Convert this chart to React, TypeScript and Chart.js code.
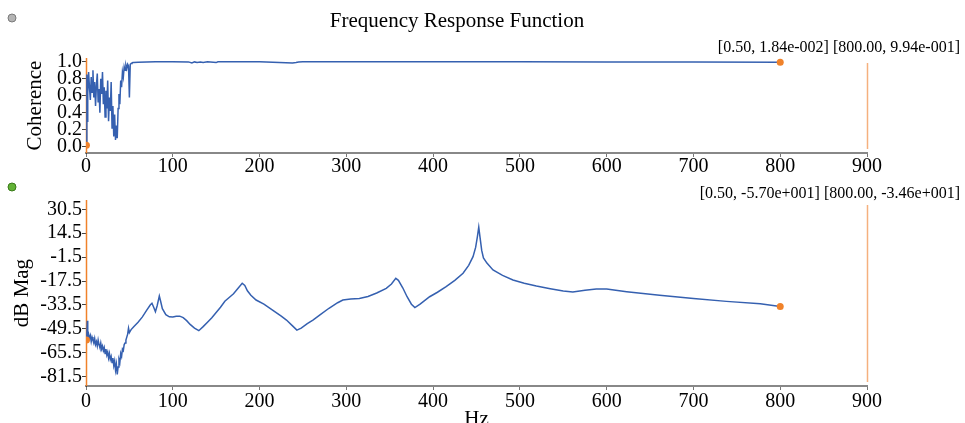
import React, { useEffect, useRef } from "react";
import { Chart, registerables } from "chart.js";

Chart.register(...registerables);

// ---------- data ----------
const cohFreq = [
  0.5, 1, 1.5, 2, 3, 4, 5, 6, 7, 8, 9, 10,
  11, 12, 13, 14, 15, 16, 17, 18, 19, 20,
  21, 22, 23, 24, 25, 26, 27, 28, 29, 30,
  31, 32, 33, 34, 35, 36, 37, 38, 39, 40,
  41, 42, 43, 44, 45, 46, 47, 48, 49, 50,
  51, 52, 53, 54, 55,
  60, 70, 80, 100, 118, 122, 125, 128, 132, 135, 140, 150,
  152, 200, 238, 242, 245, 250, 300, 400, 500, 600, 700, 800,
];
const cohValues = [
  0.0184, 0.85, 0.3, 0.62, 0.88, 0.7, 0.55, 0.82, 0.64, 0.9, 0.58, 0.76,
  0.48, 0.72, 0.86, 0.52, 0.68, 0.4, 0.8, 0.62, 0.88, 0.5,
  0.7, 0.35, 0.66, 0.45, 0.78, 0.3, 0.58, 0.42, 0.76, 0.22,
  0.48, 0.12, 0.38, 0.08, 0.25, 0.1, 0.45, 0.62, 0.5, 0.78,
  0.7, 0.88, 0.82, 0.94, 0.9, 0.96, 0.92, 0.97, 0.95, 0.58,
  0.97, 0.98, 0.985, 0.99, 0.99,
  0.995, 0.998, 0.999, 0.999, 0.998, 0.985, 0.998, 0.99, 0.997, 0.992, 0.999, 0.99,
  0.999, 0.999, 0.985, 0.99, 0.996, 0.999, 0.999, 0.999, 0.999, 0.998, 0.997, 0.994,
];

const magFreq = [
  0.5, 1, 1.5, 2, 3, 4, 5, 6, 7, 8, 9, 10, 11, 12, 13, 14, 15, 16, 17, 18, 19, 20,
  21, 22, 23, 24, 25, 26, 27, 28, 29, 30, 31, 32, 33, 34, 35, 36, 37, 38, 39, 40,
  41, 42, 43, 44, 45, 46, 47, 48, 49, 50, 52, 55, 60, 65, 70, 74, 76, 78, 80, 82,
  84.5, 86, 88, 92, 96, 100, 104, 108, 112, 116, 120, 125, 130, 135, 140, 145, 150,
  155, 160, 165, 170, 175, 180, 183, 186, 190, 196, 205, 215, 225, 231, 238, 243,
  248, 255, 261.5, 270, 280, 290, 296, 305, 315, 325, 335, 346, 352, 357, 360, 365,
  370, 375, 379, 385, 396, 405, 415, 425, 434.5, 441, 446, 449, 451, 452.6, 454, 456,
  458, 462, 469, 480, 492, 505, 519, 535, 550, 561, 575, 588, 600, 623, 661, 700, 738,
  777, 800,
];
const magValues = [
  -57, -52, -44, -55, -53, -56, -54, -58, -55, -57, -59, -56, -60, -58, -61, -57,
  -60, -62, -59, -63, -61, -64, -62, -66, -63, -67, -65, -69, -66, -70, -68, -72,
  -69, -74, -71, -77, -73, -80, -75, -70, -72, -66, -68, -63, -64, -60, -59, -57,
  -55, -53, -49, -52, -50, -48, -45, -41.5, -37, -33.5, -32.4, -35, -38, -34, -27.5,
  -31, -36, -40, -41.4, -41.5, -41, -41, -42, -44, -46.5, -49, -50.7, -48, -45, -42,
  -38.5, -35, -31, -28.5, -26, -22.5, -19, -20.5, -24, -27, -30.2, -33, -36.9, -41,
  -43.6, -47.5, -50.3, -49, -46, -43.6, -40, -35.7, -32, -30.2, -29.5, -29.1, -27.8,
  -25.5, -22.4, -19.5, -15.7, -17, -22, -28, -33, -35.3, -33, -28, -25, -21.3, -17,
  -12.3, -7, -1.2, 5, 12, 18.5, 12, 3, -2, -5.5, -10.1, -13.7, -16.8, -19, -20.8,
  -22.6, -24.2, -24.8, -23.6, -22.8, -22.9, -24.6, -27.0, -29.1, -31.1, -32.7, -34.6,
];

const xTicks = [0, 100, 200, 300, 400, 500, 600, 700, 800, 900];
const cohTicks = [0.0, 0.2, 0.4, 0.6, 0.8, 1.0];
const magTicks = [-81.5, -65.5, -49.5, -33.5, -17.5, -1.5, 14.5, 30.5];

const cursorFreq = [0.5, 800];
const cohCursor = [0.0184, 0.994];
const magCursor = [-57.0, -34.6];
const cursorLines = [0.5, 900];

// ---------- helpers ----------
const SERIF = "'Liberation Serif', 'Times New Roman', serif";
const LINE_COLOR = "#3560b0";
const CURSOR_COLOR = "#f0822a";
const CURSOR2_COLOR = "#f5b07e";

function sci(v: number): string {
  const [m, e] = v.toExponential(2).split("e");
  const n = parseInt(e, 10);
  return m + "e" + (n < 0 ? "-" : "+") + String(Math.abs(n)).padStart(3, "0");
}

function cursorText(vals: number[]): string {
  return cursorFreq
    .map((f, i) => `[${f.toFixed(2)}, ${sci(vals[i])}]`)
    .join(" ");
}

function overlayPlugin(opts: {
  text: string;
  textY: number;
  title?: string;
  dotY: number;
  dotFill: string;
  dotStroke: string;
}) {
  return {
    id: "overlay",
    beforeDatasetsDraw(chart: any) {
      const { ctx, chartArea, scales } = chart;
      ctx.save();
      cursorLines.forEach((f, i) => {
        const x = Math.round(scales.x.getPixelForValue(f)) + 0.5;
        ctx.strokeStyle = i === 0 ? CURSOR_COLOR : CURSOR2_COLOR;
        ctx.lineWidth = 1.5;
        ctx.beginPath();
        if (i === 0) {
          ctx.moveTo(x, chartArea.top);
          ctx.lineTo(x, chartArea.bottom);
        } else {
          ctx.moveTo(x, chartArea.top + 5);
          ctx.lineTo(x, chartArea.bottom - 4);
        }
        ctx.stroke();
      });
      ctx.restore();
    },
    afterDraw(chart: any) {
      const { ctx } = chart;
      ctx.save();
      ctx.fillStyle = "#000";
      ctx.textBaseline = "middle";
      if (opts.title) {
        ctx.font = `21px ${SERIF}`;
        ctx.textAlign = "center";
        ctx.fillText(opts.title, 457, 21);
      }
      ctx.font = `16px ${SERIF}`;
      ctx.textAlign = "right";
      ctx.fillText(opts.text, 960, opts.textY);
      ctx.beginPath();
      ctx.arc(12, opts.dotY, 4, 0, Math.PI * 2);
      ctx.fillStyle = opts.dotFill;
      ctx.fill();
      ctx.lineWidth = 1;
      ctx.strokeStyle = opts.dotStroke;
      ctx.stroke();
      ctx.restore();
    },
  };
}

function buildConfig(p: {
  freq: number[];
  values: number[];
  cursorVals: number[];
  yTicks: number[];
  yMin: number;
  yMax: number;
  yTitle: string;
  yTitlePad: number;
  padTop: number;
  xAxisHeight: number;
  xTickPad: number;
  xTitle?: string;
  plugin: any;
}): any {
  const lineData = p.freq.map((f, i) => ({ x: f, y: p.values[i] }));
  const markData = cursorFreq.map((f, i) => ({ x: f, y: p.cursorVals[i] }));
  return {
    type: "line",
    data: {
      datasets: [
        {
          data: markData,
          showLine: false,
          pointRadius: 3.5,
          pointBackgroundColor: CURSOR_COLOR,
          pointBorderColor: CURSOR_COLOR,
          pointBorderWidth: 0,
        },
        {
          data: lineData,
          borderColor: LINE_COLOR,
          borderWidth: 1.5,
          pointRadius: 0,
          tension: 0,
          fill: false,
        },
      ],
    },
    options: {
      responsive: false,
      animation: false,
      devicePixelRatio: 1,
      layout: { padding: { top: p.padTop, right: 98, left: 0, bottom: 0 } },
      plugins: { legend: { display: false }, tooltip: { enabled: false } },
      scales: {
        x: {
          type: "linear",
          min: 0,
          max: 900,
          afterBuildTicks: (s: any) => {
            s.ticks = xTicks.map((v) => ({ value: v }));
          },
          afterFit: (s: any) => {
            s.height = p.xAxisHeight;
          },
          grid: {
            drawOnChartArea: false,
            drawTicks: true,
            tickLength: 4,
            color: "#777",
          },
          border: { color: "#888", width: 2 },
          ticks: {
            padding: p.xTickPad,
            color: "#000",
            font: { family: SERIF, size: 20 },
            maxRotation: 0,
            autoSkip: false,
            callback: (v: any) => String(v),
          },
          title: p.xTitle
            ? {
                display: true,
                text: p.xTitle,
                color: "#000",
                font: { family: SERIF, size: 21 },
                padding: { top: 0, bottom: -9 },
              }
            : { display: false },
        },
        y: {
          type: "linear",
          min: p.yMin,
          max: p.yMax,
          afterBuildTicks: (s: any) => {
            s.ticks = p.yTicks.map((v) => ({ value: v }));
          },
          afterFit: (s: any) => {
            s.width = 86;
          },
          grid: {
            drawOnChartArea: false,
            drawTicks: true,
            tickLength: 4,
            color: "#444",
          },
          border: { color: "#444", width: 1 },
          ticks: {
            padding: 0,
            color: "#000",
            font: { family: SERIF, size: 20 },
            autoSkip: false,
            callback: (v: any) => Number(v).toFixed(1),
          },
          title: {
            display: true,
            text: p.yTitle,
            color: "#000",
            font: { family: SERIF, size: 21 },
            padding: { top: p.yTitlePad, bottom: 0 },
          },
        },
      },
    },
    plugins: [p.plugin],
  };
}

export default function App() {
  const topRef = useRef<HTMLCanvasElement | null>(null);
  const botRef = useRef<HTMLCanvasElement | null>(null);

  useEffect(() => {
    const top = new Chart(
      topRef.current as HTMLCanvasElement,
      buildConfig({
        freq: cohFreq,
        values: cohValues,
        cursorVals: cohCursor,
        yTicks: cohTicks,
        yMin: -0.074,
        yMax: 1.044,
        yTitle: "Coherence",
        yTitlePad: 23,
        padTop: 58,
        xAxisHeight: 27,
        xTickPad: -2,
        plugin: overlayPlugin({
          title: "Frequency Response Function",
          text: cursorText(cohCursor),
          textY: 48,
          dotY: 18,
          dotFill: "#b4b4b4",
          dotStroke: "#7a7a7a",
        }),
      })
    );
    const bot = new Chart(
      botRef.current as HTMLCanvasElement,
      buildConfig({
        freq: magFreq,
        values: magValues,
        cursorVals: magCursor,
        yTicks: magTicks,
        yMin: -87.7,
        yMax: 36.7,
        yTitle: "dB Mag",
        yTitlePad: 10,
        padTop: 20,
        xAxisHeight: 37,
        xTickPad: 0,
        xTitle: "Hz",
        plugin: overlayPlugin({
          text: cursorText(magCursor),
          textY: 14,
          dotY: 7,
          dotFill: "#62b236",
          dotStroke: "#3a7a1a",
        }),
      })
    );
    return () => {
      top.destroy();
      bot.destroy();
    };
  }, []);

  return (
    <div
      style={{
        position: "fixed",
        left: 0,
        top: 0,
        width: 965,
        height: 423,
        overflow: "hidden",
        background: "#fff",
      }}
    >
      <canvas
        ref={topRef}
        width={965}
        height={180}
        style={{ position: "absolute", left: 0, top: 0, width: 965, height: 180, display: "block" }}
      />
      <canvas
        ref={botRef}
        width={965}
        height={243}
        style={{ position: "absolute", left: 0, top: 180, width: 965, height: 243, display: "block" }}
      />
    </div>
  );
}
